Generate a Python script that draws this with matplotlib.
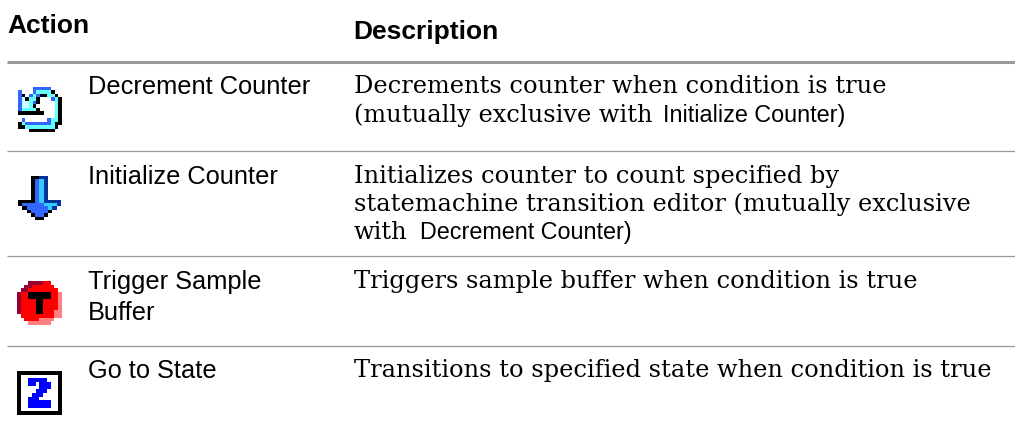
import matplotlib
matplotlib.use("Agg")
import matplotlib.pyplot as plt
import numpy as np
from matplotlib.colors import to_rgba

W, H = 1015, 431
headers = ["Action", "Description"]
actions = [["Decrement Counter"], ["Initialize Counter"], ["Trigger Sample", "Buffer"], ["Go to State"]]
desc_lines = [
    [("Decrements counter when condition is true", "s")],
    [("(mutually exclusive with", "s"), ("Initialize Counter)", "a")],
    [("Initializes counter to count specified by", "s")],
    [("statemachine transition editor (mutually exclusive", "s")],
    [("with", "s"), ("Decrement Counter)", "a")],
    [("Triggers sample buffer when condition is true", "s")],
    [("Transitions to specified state when condition is true", "s")],
]
palette = {".": "#ffffff", "K": "#000000", "B": "#3366ff", "C": "#66ffff", "L": "#ccffff",
           "S": "#33ccff", "N": "#003399", "R": "#ff0000", "P": "#ff8080", "M": "#990033", "Z": "#0000ff"}
icon_decrement = [
    "....BBBBB...",
    "B...BCCCCK..",
    "BK.BCBKKCCK.",
    "BLKCCK...BCK",
    "BLLCBK....CK",
    "BLLCK.....CK",
    "BCCCCK....CK",
    "KKKKKKK...CK",
    "..........CK",
    ".B......BCCK",
    "KCBBBBBBBCKK",
    "KKCCCCCCCCK.",
    "...KKKKKKK..",
]
icon_initialize = [
    "...KKNN...",
    "...KBSN...",
    "...KBSN...",
    "...KBSN...",
    "...KBSN...",
    "...KBSN...",
    "...KBSN...",
    "KKKKBSNNNN",
    "KBBBBBSSSN",
    ".KBBBBBSN.",
    "..KBBBBK..",
    "...KBBK...",
    "....KK....",
]
icon_trigger = [
    "...MMMMRR...",
    "..MMRRRRRR..",
    ".MMRRRRRRRR.",
    "MRRKKKKKKRRP",
    "MRRKKKKKKRRP",
    "MRRRRKKRRRRP",
    "MRRRRKKRRRRP",
    "MRRRRKKRRRRP",
    "MRRRRKKRRRPP",
    ".RRRRRRRRRPP",
    "..RRRRPPPP..",
    "...PPPPPP...",
]
icon_goto = [
    "KKKKKKKKKKKK",
    "K..........K",
    "K..ZZZZZ...K",
    "K..ZZ.ZZZ..K",
    "K.....ZZZ..K",
    "K....ZZZ...K",
    "K...ZZZ....K",
    "K..ZZZ.....K",
    "K..ZZZZZZ..K",
    "K..ZZZZZZ..K",
    "K..........K",
    "KKKKKKKKKKKK",
]
icons = [icon_decrement, icon_initialize, icon_trigger, icon_goto]

fig = plt.figure(figsize=(W / 100, H / 100), dpi=100, facecolor="white")
ax = fig.add_axes([0, 0, 1, 1])
ax.set_xlim(0, W); ax.set_ylim(H, 0); ax.axis("off")

icon_boxes = [(18, 62, 88, 133), (18, 61, 177, 221), (17, 62, 282, 326), (17, 62, 372, 416)]
for rows, (x0, x1, y0, y1) in zip(icons, icon_boxes):
    img = np.array([[to_rgba(palette[c]) for c in r] for r in rows])
    ax.imshow(img, extent=(x0, x1, y1, y0), interpolation="nearest", aspect="auto", zorder=2)
ax.set_xlim(0, W); ax.set_ylim(H, 0)

sans = "Liberation Sans"; serif = "DejaVu Serif"
ax.text(7.5, 33, headers[0], family=sans, weight="bold", fontsize=19, va="baseline", color="black")
ax.text(353.5, 38.5, headers[1], family=sans, weight="bold", fontsize=19, va="baseline", color="black")

ax.plot([7, W], [62.5, 62.5], color="#999999", lw=2.2, solid_capstyle="butt")
for y in [152, 257, 347]:
    ax.plot([7, W], [y, y], color="#999999", lw=0.9, solid_capstyle="butt")

action_y = [[94], [184], [289, 320], [378]]
for lines, ys in zip(actions, action_y):
    for s, y in zip(lines, ys):
        ax.text(88, y, s, family=sans, fontsize=18.3, va="baseline", color="black")

desc_y = [93, 122, 183, 211, 239, 288, 377.5]
inline_x = {1: 663, 4: 420}
SERIF_SIZE, SANS_SIZE = 17.4, 16.8
for i, (parts, y) in enumerate(zip(desc_lines, desc_y)):
    for j, (s, kind) in enumerate(parts):
        fam, sz = (serif, SERIF_SIZE) if kind == "s" else (sans, SANS_SIZE)
        x = 354 if j == 0 else inline_x[i]
        ax.text(x, y, s, family=fam, fontsize=sz, va="baseline", color="black")
fig.savefig("out.png", dpi=100)
